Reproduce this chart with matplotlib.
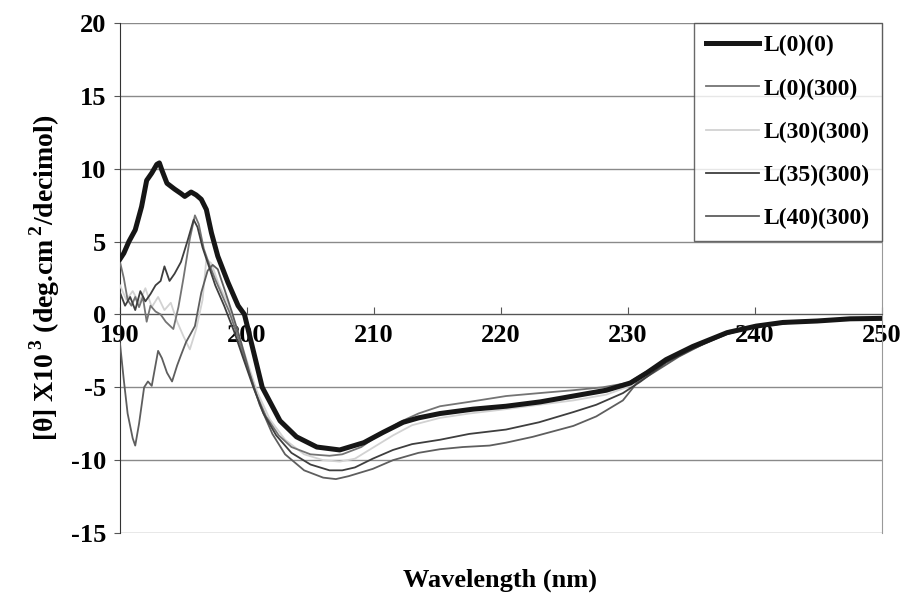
#----grafico espectro CD----#
import matplotlib
matplotlib.use("Agg")
import matplotlib.pyplot as plt

plt.rcParams["font.family"] = "Liberation Serif"
plt.rcParams["font.weight"] = "bold"
plt.rcParams["axes.unicode_minus"] = False
plt.rcParams["mathtext.fontset"] = "custom"
plt.rcParams["mathtext.rm"] = "Liberation Serif:bold"
plt.rcParams["mathtext.bf"] = "Liberation Serif:bold"

#---datos---#
wl_l0_0 = [190, 190.3, 190.7, 191.2, 191.7, 192.1, 192.5, 192.9, 193.1, 193.3, 193.7, 194.3,
           194.8, 195.1, 195.6, 196.0, 196.4, 196.8, 197.2, 197.7, 198.5, 199.3, 199.8, 200.5,
           201.2, 202.6, 203.9, 205.5, 207.3, 209.2, 210.7, 212.3, 213.5, 215.2, 217.8, 220.4,
           223.1, 225.7, 228.3, 230.2, 231.5, 233.0, 235.1, 237.8, 240.1, 242.2, 244.9, 247.5, 250.0]
th_l0_0 = [3.8, 4.2, 5.0, 5.8, 7.4, 9.2, 9.7, 10.3, 10.4, 9.9, 9.0, 8.6,
           8.3, 8.1, 8.4, 8.2, 7.9, 7.2, 5.6, 4.0, 2.2, 0.6, 0.0, -2.5,
           -5.0, -7.3, -8.4, -9.1, -9.3, -8.8, -8.1, -7.4, -7.1, -6.8, -6.5, -6.3,
           -6.0, -5.6, -5.2, -4.7, -4.0, -3.1, -2.2, -1.25, -0.8, -0.55, -0.45, -0.3, -0.27]

wl_l0_300 = [190, 190.3, 190.6, 190.9, 191.2, 191.5, 191.8, 192.1, 192.4, 192.8, 193.2, 193.6,
             194.2, 194.6, 195.0, 195.5, 195.9, 196.2, 196.6, 197.0, 197.5, 198.0, 198.6, 199.3,
             200.0, 200.7, 201.5, 202.5, 203.5, 205.0, 206.5, 207.5, 209.0, 210.5, 212.0, 213.5,
             215.2, 217.5, 220.4, 223.0, 225.7, 228.0, 230.0, 231.5, 233.0, 235.0, 237.8, 240.0,
             242.5, 245.0, 247.5, 250.0]
th_l0_300 = [3.6, 2.5, 1.0, 0.6, 1.2, 0.5, 1.2, -0.5, 0.6, 0.2, 0.0, -0.5,
             -1.0, 0.5, 2.5, 5.2, 6.8, 6.2, 4.5, 3.5, 2.4, 1.4, 0.2, -1.6,
             -3.6, -5.4, -7.0, -8.3, -9.1, -9.6, -9.7, -9.6, -9.1, -8.2, -7.4, -6.8,
             -6.3, -6.0, -5.6, -5.4, -5.2, -5.0, -4.7, -3.9, -3.1, -2.3, -1.3, -0.85,
             -0.6, -0.45, -0.35, -0.3]

wl_l30_300 = [190, 190.5, 191.0, 191.5, 192.0, 192.5, 193.0, 193.5, 194.0, 194.5, 195.0, 195.5,
              196.0, 196.5, 196.8, 197.2, 197.8, 198.5, 199.2, 200.0, 200.8, 201.8, 203.0, 204.5,
              206.0, 207.3, 208.5, 210.0, 211.5, 213.0, 215.2, 217.5, 220.4, 223.0, 225.7, 228.3,
              230.2, 232.0, 234.0, 236.0, 238.0, 240.0, 242.5, 245.0, 247.5, 250.0]
th_l30_300 = [2.0, 1.0, 1.6, 0.8, 1.8, 0.5, 1.2, 0.3, 0.8, -0.5, -1.5, -2.4,
              -1.0, 1.0, 3.8, 3.5, 2.0, 0.8, -1.0, -3.2, -5.3, -7.2, -8.6, -9.6,
              -10.0, -10.1, -9.9, -9.1, -8.3, -7.6, -7.1, -6.8, -6.5, -6.2, -5.9, -5.5,
              -4.9, -3.8, -2.8, -1.9, -1.1, -0.75, -0.55, -0.42, -0.32, -0.28]

wl_l35_300 = [190, 190.4, 190.8, 191.2, 191.6, 192.0, 192.4, 192.8, 193.2, 193.5, 193.9, 194.3,
              194.8, 195.3, 195.8, 196.1, 196.5, 197.0, 197.5, 198.2, 199.0, 199.7, 200.5, 201.3,
              202.3, 203.5, 205.0, 206.5, 207.5, 208.5, 209.9, 211.5, 213.0, 215.2, 217.5, 220.4,
              223.0, 225.7, 227.5, 229.6, 231.0, 233.0, 235.0, 237.8, 240.0, 242.5, 245.0, 247.5, 250.0]
th_l35_300 = [1.5, 0.6, 1.2, 0.3, 1.6, 0.9, 1.4, 2.0, 2.3, 3.3, 2.3, 2.8,
              3.6, 5.0, 6.5, 6.0, 4.6, 3.3, 2.0, 0.6, -1.2, -3.0, -5.0, -6.8,
              -8.3, -9.5, -10.3, -10.7, -10.7, -10.5, -9.9, -9.3, -8.9, -8.6, -8.2, -7.9,
              -7.4, -6.7, -6.2, -5.4, -4.6, -3.3, -2.4, -1.35, -0.85, -0.6, -0.45, -0.33, -0.28]

wl_l40_300 = [190, 190.3, 190.6, 191.0, 191.2, 191.5, 191.9, 192.2, 192.5, 193.0, 193.3, 193.7,
              194.1, 194.5, 194.8, 195.2, 195.9, 196.4, 196.9, 197.3, 197.7, 198.2, 198.8, 199.5,
              200.2, 201.0, 202.0, 203.0, 204.5, 206.0, 207.0, 208.0, 209.9, 211.5, 213.5, 215.2,
              217.0, 219.1, 220.4, 222.5, 225.7, 227.5, 229.6, 230.7, 232.0, 234.0, 236.0, 238.0,
              240.0, 242.5, 245.0, 247.5, 250.0]
th_l40_300 = [-2.0, -4.5, -6.8, -8.5, -9.0, -7.5, -5.0, -4.6, -4.9, -2.5, -3.0, -4.0,
              -4.6, -3.5, -2.8, -1.9, -0.8, 1.5, 3.0, 3.4, 3.1, 1.8, 0.2, -1.8,
              -4.0, -6.2, -8.2, -9.6, -10.7, -11.2, -11.3, -11.1, -10.6, -10.0, -9.5, -9.25,
              -9.1, -9.0, -8.8, -8.4, -7.65, -7.0, -5.9, -4.7, -4.0, -2.9, -2.0, -1.2,
              -0.8, -0.58, -0.45, -0.33, -0.28]

fig = plt.figure(figsize=(9.07, 5.95), dpi=100)
ax = fig.add_axes([0.1323, 0.1042, 0.8401, 0.8571])

### curvas
ax.plot(wl_l0_0, th_l0_0, color="#161616", lw=3.6, label="L(0)(0)", zorder=6)
ax.plot(wl_l0_300, th_l0_300, color="#747474", lw=1.3, label="L(0)(300)", zorder=4)
ax.plot(wl_l30_300, th_l30_300, color="#d2d2d2", lw=1.3, label="L(30)(300)", zorder=3)
ax.plot(wl_l35_300, th_l35_300, color="#3e3e3e", lw=1.3, label="L(35)(300)", zorder=5)
ax.plot(wl_l40_300, th_l40_300, color="#5e5e5e", lw=1.3, label="L(40)(300)", zorder=4)

### ejes
ax.set_xlim(190, 250)
ax.set_ylim(-15, 20)
ax.set_xticks(range(190, 251, 10))
ax.set_yticks(range(-15, 21, 5))
ax.yaxis.grid(True, color="#8a8a8a", lw=1.0)
ax.set_axisbelow(True)

ax.spines["bottom"].set_position(("data", 0))
ax.spines["bottom"].set_color("#555555")
ax.spines["top"].set_visible(False)
ax.spines["left"].set_color("#333333")
ax.spines["right"].set_color("#999999")
ax.tick_params(axis="x", direction="in", length=5, pad=7, labelsize=19, color="#555555")
ax.tick_params(axis="y", direction="out", length=4, pad=6, labelsize=19, color="#555555")

ax.set_ylabel(r"[θ] X10$^{\,3}$ (deg.cm$^{\,2}$/decimol)", fontsize=20, fontweight="bold", labelpad=6)
fig.text(0.551, 0.025, "Wavelength (nm)", ha="center", va="center", fontsize=19, fontweight="bold")

### leyenda
leg = ax.legend(loc="upper right", bbox_to_anchor=(1.0, 1.0), borderaxespad=0.0,
                fontsize=17, frameon=True, fancybox=False, handlelength=2.25,
                handletextpad=0.2, labelspacing=0.92, borderpad=0.5)
leg.get_frame().set_edgecolor("#444444")
leg.get_frame().set_linewidth(1.0)
for t in leg.get_texts():
    t.set_fontweight("bold")

plt.savefig("out.png", dpi=100)
